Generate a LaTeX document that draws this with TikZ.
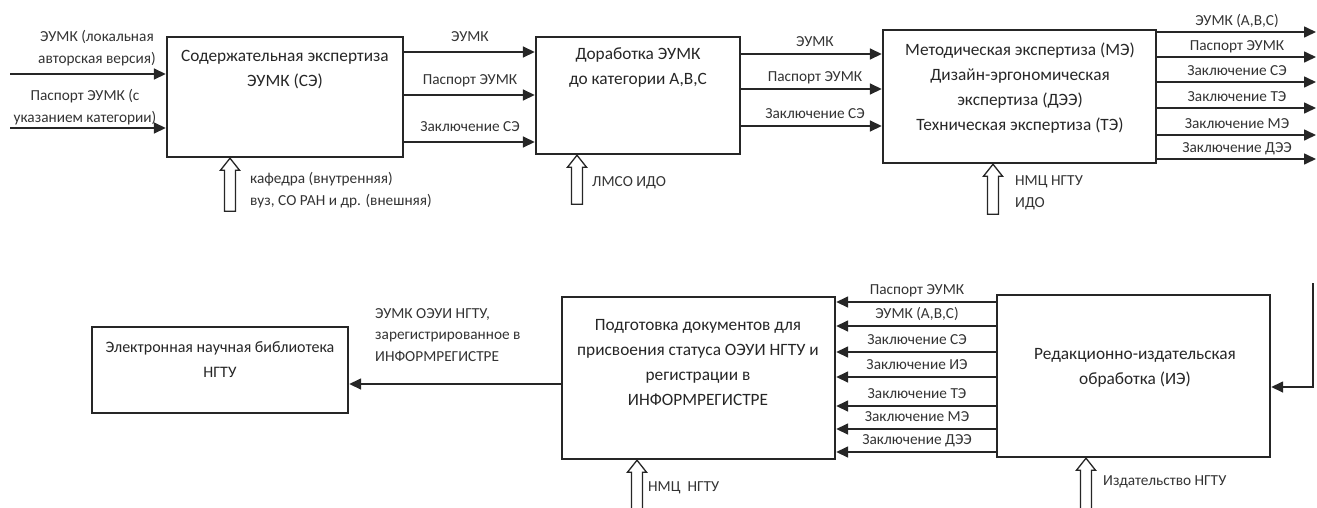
\documentclass[tikz,border=0pt]{standalone}
\usepackage{fontspec}
\setmainfont{Carlito}
\usetikzlibrary{arrows.meta,calc}
\newcommand\ctrlarrow[3]{%
  \path (#1.south -| #2,0) coordinate (tip-#1);
  \draw[hollow] (tip-#1) -- ++(9.5,12) -- ++(-4,0) -- ++(0,{#3-12}) -- ++(-11,0) -- ++(0,{12-#3}) -- ++(-4,0) -- cycle;}
\begin{document}
\begin{tikzpicture}[x=1pt,y=-1pt,
  box/.style={draw=black!85, line width=2.4pt, inner sep=0pt},
  ttl/.style={font=\fontsize{17.3}{25}\selectfont, align=center, anchor=north, inner sep=0pt, text=black!85},
  lab/.style={font=\fontsize{15.3}{21.5}\selectfont, align=center, inner sep=0pt, text=black!80},
  flow/.style={line width=1.6pt, draw=black!85, -{Triangle[length=12pt,width=11pt]}},
  hollow/.style={line width=1.3pt, draw=black!85, fill=white}]
\useasboundingbox (0,0) rectangle (1317,507);
% boxes
\node[box, minimum width=236pt, minimum height=120pt] (b1) at (285,97) {};
\node[box, minimum width=204pt, minimum height=117pt] (b2) at (638,95.5) {};
\node[box, minimum width=273pt, minimum height=133pt] (b3) at (1019.5,96.5) {};
\node[box, minimum width=256pt, minimum height=86pt] (lib) at (220,370) {};
\node[box, minimum width=273pt, minimum height=162pt] (b4) at (698.5,378) {};
\node[box, minimum width=273pt, minimum height=162pt] (b5) at (1133.5,376) {};
% titles
\node[ttl] (t1) at (285,50) {Содержательная экспертиза\\ЭУМК (СЭ)};
\node[ttl] (t2) at (638,48) {Доработка ЭУМК\\до категории А,В,С};
\node[ttl] (t3) at (1020,43) {Методическая экспертиза (МЭ)\\Дизайн-эргономическая\\экспертиза (ДЭЭ)\\Техническая экспертиза (ТЭ)};
\node[ttl, font=\fontsize{16}{25}\selectfont] (tl) at (220,341) {Электронная научная библиотека\\НГТУ};
\node[ttl] (t4) at (698,319) {Подготовка документов для\\присвоения статуса ОЭУИ НГТУ и\\регистрации в\\ИНФОРМРЕГИСТРЕ};
\node[ttl] (t5) at (1135,348) {Редакционно-издательская\\обработка (ИЭ)};
% inputs to b1
\coordinate (i1) at (10,74);
\coordinate (i2) at (10,128);
\draw[flow] (i1) -- (b1.west |- i1);
\draw[flow] (i2) -- (b1.west |- i2);
\node[lab] (li1) at (97,48) {ЭУМК (локальная\\авторская версия)};
\node[lab] (li2) at (85,107) {Паспорт ЭУМК (с\\указанием категории)};
% b1 -> b2
\foreach \y/\t in {52/ЭУМК, 95/Паспорт ЭУМК, 142/Заключение СЭ}{
  \draw[flow] (b1.east |- 0,\y) -- (b2.west |- 0,\y);
  \node[lab, anchor=base] at (470,{\y-11}) {\t};
}
% b2 -> b3
\foreach \y/\t in {54/ЭУМК, 89/Паспорт ЭУМК, 126/Заключение СЭ}{
  \draw[flow] (b2.east |- 0,\y) -- (b3.west |- 0,\y);
  \node[lab, anchor=base] at (815,{\y-8}) {\t};
}
% b3 outputs
\foreach \y/\t [count=\i] in {32/{ЭУМК (А,В,С)}, 57/Паспорт ЭУМК, 82/Заключение СЭ, 108/Заключение ТЭ, 135/Заключение МЭ, 159/Заключение ДЭЭ}{
  \coordinate (o\i) at (1316,\y);
  \draw[flow] (b3.east |- o\i) -- (o\i);
  \node[lab, anchor=base] at (1237,{\y-7}) {\t};
}
% b5 -> b4
\foreach \y/\t in {302/Паспорт ЭУМК, 326/{ЭУМК (А,В,С)}, 352/Заключение СЭ, 377/Заключение ИЭ, 406/Заключение ТЭ, 429/Заключение МЭ, 452/Заключение ДЭЭ}{
  \draw[flow] (b5.west |- 0,\y) -- (b4.east |- 0,\y);
  \node[lab, anchor=base] at (917,{\y-8}) {\t};
}
% b4 -> lib
\draw[flow] (b4.west |- 0,384) -- (lib.east |- 0,384);
\node[lab, align=left, anchor=north west] (lo) at (375,308) {ЭУМК ОЭУИ НГТУ,\\зарегистрированное в\\ИНФОРМРЕГИСТРЕ};
% input to b5
\coordinate (in5) at (1313,283);
\draw[flow] (in5) -- (1313,387) -- (b5.east |- 0,387);
% controls
\ctrlarrow{b1}{230}{53}
\ctrlarrow{b2}{577}{49}
\ctrlarrow{b3}{993}{50}
\ctrlarrow{b4}{637}{50}
\ctrlarrow{b5}{1086}{52}
\node[lab, align=left, anchor=west] (c1) at (250,190) {кафедра (внутренняя)\\вуз, СО РАН и др. (внешняя)};
\node[lab, anchor=west] (c2) at (592,183) {ЛМСО ИДО};
\node[lab, align=left, anchor=west] (c3) at (1015,193) {НМЦ НГТУ\\ИДО};
\node[lab, anchor=west] (c4) at (648,488) {НМЦ\ \ НГТУ};
\node[lab, anchor=west] (c5) at (1103,482) {Издательство НГТУ};
\end{tikzpicture}
\end{document}
